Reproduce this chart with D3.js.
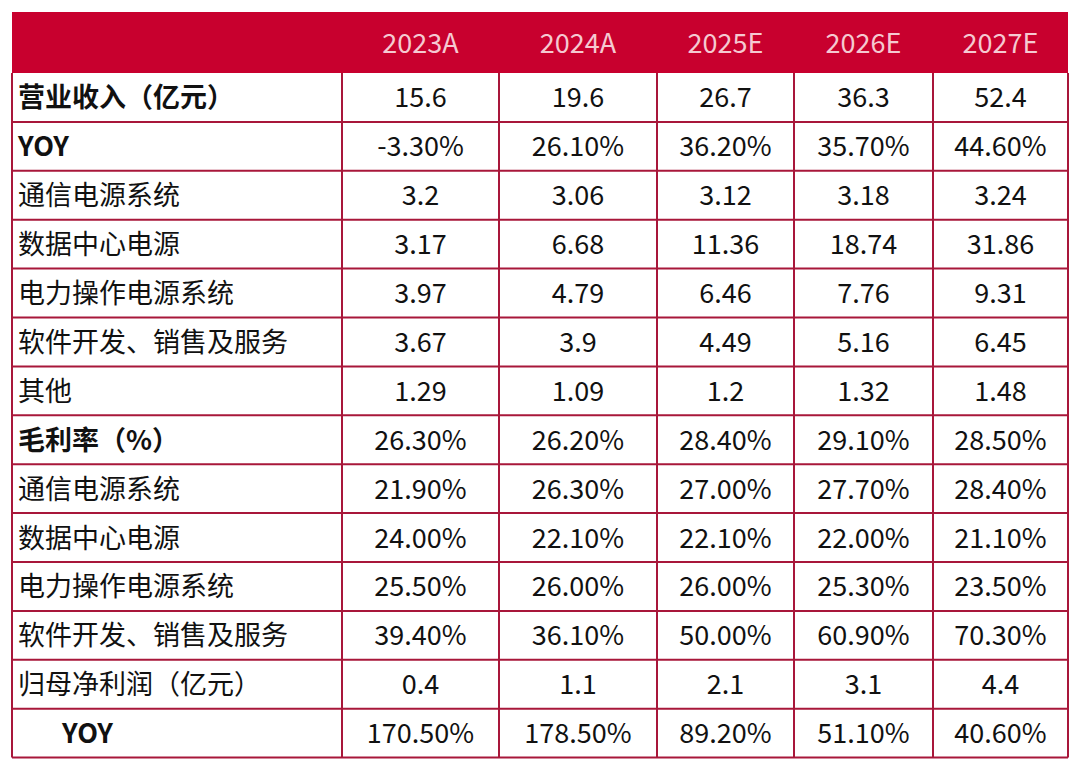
<!DOCTYPE html>
<html><head><meta charset="utf-8">
<script src="https://cdn.jsdelivr.net/npm/d3@7"></script>
<style>body{margin:0;background:#fff;}</style></head>
<body><svg id="c" width="1080" height="770"></svg>
<script>
const years = ["2023A","2024A","2025E","2026E","2027E"];
const labels = ["营业收入（亿元）","YOY","通信电源系统","数据中心电源","电力操作电源系统","软件开发、销售及服务","其他","毛利率（%）","通信电源系统","数据中心电源","电力操作电源系统","软件开发、销售及服务","归母净利润（亿元）","YOY"];
const boldRows = [0,1,7,13];
const values = [
 ["15.6","19.6","26.7","36.3","52.4"],
 ["-3.30%","26.10%","36.20%","35.70%","44.60%"],
 ["3.2","3.06","3.12","3.18","3.24"],
 ["3.17","6.68","11.36","18.74","31.86"],
 ["3.97","4.79","6.46","7.76","9.31"],
 ["3.67","3.9","4.49","5.16","6.45"],
 ["1.29","1.09","1.2","1.32","1.48"],
 ["26.30%","26.20%","28.40%","29.10%","28.50%"],
 ["21.90%","26.30%","27.00%","27.70%","28.40%"],
 ["24.00%","22.10%","22.10%","22.00%","21.10%"],
 ["25.50%","26.00%","26.00%","25.30%","23.50%"],
 ["39.40%","36.10%","50.00%","60.90%","70.30%"],
 ["0.4","1.1","2.1","3.1","4.4"],
 ["170.50%","178.50%","89.20%","51.10%","40.60%"]
];
const svg = d3.select("#c");
const colEdges = [12,342,499,657,794,933,1068];
const tableTop=12, headH=61, rowH=48.9;
const font = "'Noto Sans CJK SC','Noto Sans',sans-serif";
const red="#c8002e", line="#a8173a";
svg.append("rect").attr("x",12).attr("y",tableTop).attr("width",1056).attr("height",headH).attr("fill",red);
svg.selectAll("text.h").data(years).join("text")
 .attr("x",(d,i)=>(colEdges[i+1]+colEdges[i+2])/2).attr("y",tableTop+headH/2+10)
 .attr("text-anchor","middle").attr("font-family",font).attr("font-size",27).attr("fill","#f5c9d1").text(d=>d);
const y0=tableTop+headH;
const ry = i=>y0+i*rowH;
labels.forEach((l,i)=>{
 svg.append("text").attr("x", i===13?62:18).attr("y",ry(i)+rowH/2+10)
  .attr("font-family",font).attr("font-size",27).attr("font-weight",boldRows.includes(i)?"bold":"normal")
  .attr("fill","#111").text(l);
 values[i].forEach((v,j)=>{
  svg.append("text").attr("x",(colEdges[j+1]+colEdges[j+2])/2).attr("y",ry(i)+rowH/2+10)
   .attr("text-anchor","middle").attr("font-family",font).attr("font-size",27).attr("fill","#111").text(v);
 });
});
const bottom=ry(labels.length);
for(let i=1;i<=labels.length;i++) svg.append("line").attr("x1",12).attr("x2",1068).attr("y1",ry(i)).attr("y2",ry(i)).attr("stroke",line).attr("stroke-width",2);
colEdges.forEach(x=>svg.append("line").attr("x1",x).attr("x2",x).attr("y1",y0).attr("y2",bottom).attr("stroke",line).attr("stroke-width",2));
</script></body></html>
